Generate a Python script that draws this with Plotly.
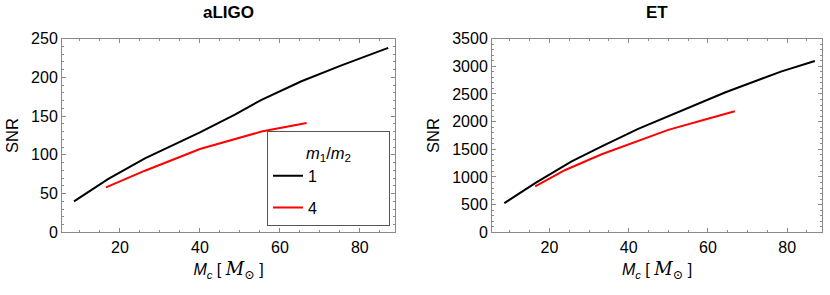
import plotly.graph_objects as go
from plotly.subplots import make_subplots

# ---- data ----
mc_ligo_q1 = [8.5, 17.1, 26.25, 40.0, 48.75, 55.4, 65.4, 75.4, 87.1]
snr_ligo_q1 = [40, 69, 95.5, 129, 152, 171, 195, 215.5, 238]
mc_ligo_q4 = [16.5, 26.25, 40.0, 55.4, 66.7]
snr_ligo_q4 = [58, 79.5, 107.5, 130, 141]

mc_et_q1 = [8.6, 16.6, 25.6, 33.2, 42.4, 52.5, 64.3, 78.6, 87.0]
snr_et_q1 = [526, 897, 1280, 1554, 1869, 2171, 2526, 2909, 3097]
mc_et_q4 = [16.4, 24.0, 33.2, 40.8, 50.0, 60.0, 66.8]
snr_et_q4 = [829, 1126, 1411, 1611, 1851, 2051, 2189]

ratio_labels = ["1", "4"]
ratio_colors = ["black", "#ff0000"]
panel_titles = ["aLIGO", "ET"]

FONT = "Liberation Sans, Arial, sans-serif"
FRAME = "#8a8a8a"
PAD = "\u00a0" * 15

fig = make_subplots(rows=1, cols=2)

fig.add_trace(go.Scatter(x=mc_ligo_q1, y=snr_ligo_q1, mode="lines", line=dict(color=ratio_colors[0], width=2),
                         name=ratio_labels[0] + PAD, legendgroup="q1", showlegend=True), row=1, col=1)
fig.add_trace(go.Scatter(x=mc_ligo_q4, y=snr_ligo_q4, mode="lines", line=dict(color=ratio_colors[1], width=2),
                         name=ratio_labels[1] + PAD, legendgroup="q4", showlegend=True), row=1, col=1)
fig.add_trace(go.Scatter(x=mc_et_q1, y=snr_et_q1, mode="lines", line=dict(color=ratio_colors[0], width=2),
                         name=ratio_labels[0], legendgroup="q1", showlegend=False), row=1, col=2)
fig.add_trace(go.Scatter(x=mc_et_q4, y=snr_et_q4, mode="lines", line=dict(color=ratio_colors[1], width=2),
                         name=ratio_labels[1], legendgroup="q4", showlegend=False), row=1, col=2)

W, H = 830, 295
def px_x(p): return p / W
def px_y(p): return 1 - p / H

dom_l = [px_x(62), px_x(395)]
dom_r = [px_x(492), px_x(822)]
dom_y = [px_y(238), px_y(32.5)]

xtitle = ("<i>M</i><sub><i>c</i></sub> [ <span style='font-family:DejaVu Serif, serif;font-size:18px'><i>M</i>"
          "<sub>⊙</sub></span> ]")

TF = 16
common_x = dict(range=[5.5, 88.8], dtick=20, tick0=0, ticks="inside", ticklen=4, tickwidth=1,
                tickcolor=FRAME, showline=True, linecolor=FRAME, linewidth=1, mirror="allticks",
                showgrid=False, zeroline=False, ticklabelstandoff=1,
                minor=dict(dtick=5, tick0=0, ticks="inside", ticklen=2, tickcolor=FRAME, showgrid=False),
                tickfont=dict(family=FONT, size=TF, color="black"),
                title=dict(text=xtitle, font=dict(family=FONT, size=16, color="black"), standoff=8))

fig.update_xaxes(**common_x, domain=dom_l, row=1, col=1)
fig.update_xaxes(**common_x, domain=dom_r, row=1, col=2)

common_y = dict(ticks="inside", ticklen=4, tickwidth=1, tickcolor=FRAME, showline=True, linecolor=FRAME,
                linewidth=1, mirror="allticks", showgrid=False, zeroline=False,
                tickfont=dict(family=FONT, size=TF, color="black"),
                title=dict(text="SNR", font=dict(family=FONT, size=16.5, color="black"), standoff=8))
fig.update_yaxes(**common_y, domain=dom_y, range=[0, 250], dtick=50,
                 minor=dict(dtick=10, ticks="inside", ticklen=2, tickcolor=FRAME, showgrid=False), row=1, col=1)
fig.update_yaxes(**common_y, domain=dom_y, range=[0, 3500], dtick=500,
                 minor=dict(dtick=100, ticks="inside", ticklen=2, tickcolor=FRAME, showgrid=False), row=1, col=2)

for i, t in enumerate(panel_titles):
    dom = dom_l if i == 0 else dom_r
    fig.add_annotation(text="<b>%s</b>" % t, x=(dom[0] + dom[1]) / 2, y=px_y(5), xref="paper", yref="paper",
                       showarrow=False, font=dict(family=FONT, size=17, color="black"),
                       xanchor="center", yanchor="middle")

legend_title = ("<span style='font-size:16.5px'><i>m</i><sub>1</sub>/<i>m</i><sub>2</sub></span>")

fig.update_layout(
    width=W, height=H, margin=dict(l=0, r=0, t=0, b=0),
    paper_bgcolor="white", plot_bgcolor="white",
    showlegend=True,
    legend=dict(x=px_x(267), y=px_y(130), xanchor="left", yanchor="top",
                bgcolor="white", bordercolor="#555555", borderwidth=1,
                font=dict(family=FONT, size=16, color="black"),
                tracegroupgap=8,
                title=dict(text=legend_title, side="top center",
                           font=dict(family=FONT, size=21, color="black")),
                itemwidth=30),
)

fig.write_html("out.html", post_script="document.body.style.margin='0';",
               config={"displayModeBar": False})
